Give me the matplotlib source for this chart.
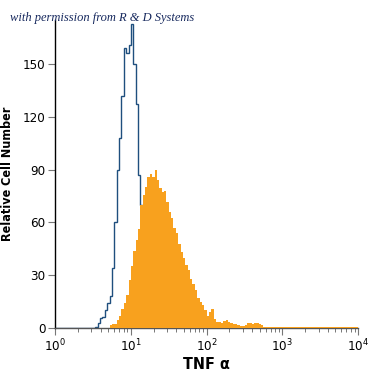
import numpy as np
import matplotlib
matplotlib.use("Agg")
import matplotlib.pyplot as plt
from matplotlib.ticker import LogLocator, FixedLocator

# channel grid: 128 channels across 4 decades
n_channels = 128
decades = 4

# isotype control (blue outline), counts from channel 17 on
control_start = 17
control_counts = [0.5, 3, 5.5, 6, 10, 14, 18, 34, 60, 90, 108, 132, 159, 156,
                  161, 173, 150, 127, 87, 70, 45, 25, 12, 6, 2, 1]

# TNF alpha stained (orange fill), counts from channel 23 on
stained_start = 23
stained_counts = [1.7, 2.3, 2.3, 4.5, 6.8, 11, 14, 19, 27, 35, 44, 50, 56, 70,
                  75.5, 80, 86, 87.5, 86, 90, 84, 79.5, 77, 78, 71.5, 66, 62.5,
                  57, 54, 48, 43, 40, 36, 33, 28, 25, 21.5, 17, 15, 13, 10, 7,
                  9, 11, 5, 3.4, 3.4, 2.8, 4, 4.5, 3.4, 2.8, 2.3, 2.3, 1.7, 1.1,
                  1.1, 1.7, 2.8, 2.8, 2.3, 2.8, 2.8, 2.3, 1.7, 0.6]
stained_tail = 0.5

y_ticks = [0, 30, 60, 90, 120, 150]

plt.rcParams["font.family"] = ["DejaVu Sans"]
plt.rcParams["font.stretch"] = "condensed"
plt.rcParams["mathtext.fontset"] = "custom"
plt.rcParams["mathtext.rm"] = "DejaVu Sans"

edges = 10 ** (np.arange(n_channels + 1) * decades / n_channels)
control = np.zeros(n_channels)
control[control_start:control_start + len(control_counts)] = control_counts
stained = np.zeros(n_channels)
s_end = stained_start + len(stained_counts)
stained[stained_start:s_end] = stained_counts
stained[s_end:] = stained_tail

fig = plt.figure(figsize=(3.75, 3.75), dpi=100)
ax = fig.add_axes([0.147, 0.1253, 0.808, 0.8214])

ax.stairs(control, edges, color="#1f4f7e", lw=1.0, zorder=2)
ax.stairs(stained, edges, fill=True, color="#f8a11e", lw=0, zorder=3)

ax.set_xscale("log")
ax.set_xlim(1, 1e4)
ax.set_ylim(0, 175)
ax.xaxis.set_major_locator(LogLocator(base=10, numticks=10))
ax.xaxis.set_minor_locator(LogLocator(base=10, subs=np.arange(2, 10), numticks=10))
ax.yaxis.set_major_locator(FixedLocator(y_ticks))

for side in ("top", "right"):
    ax.spines[side].set_visible(False)
ax.spines["left"].set_linewidth(1.0)
ax.spines["bottom"].set_linewidth(1.0)
ax.spines["bottom"].set_color("#555555")

ax.tick_params(axis="both", which="major", direction="out", length=5,
               width=0.8, color="#777777", labelsize=9.5, pad=2)
ax.tick_params(axis="x", which="minor", direction="out", length=3,
               width=0.7, color="#777777")

ax.set_ylabel("Relative Cell Number", fontsize=9, fontweight="bold",
              labelpad=6)
ax.set_xlabel("TNF \u03b1", fontsize=11.5, fontweight="bold", labelpad=2)

fig.text(0.027, 0.943, "with permission from R & D Systems",
         family="Liberation Serif", style="italic", fontsize=9,
         color="#17295e")

fig.savefig("out.png", dpi=100)
